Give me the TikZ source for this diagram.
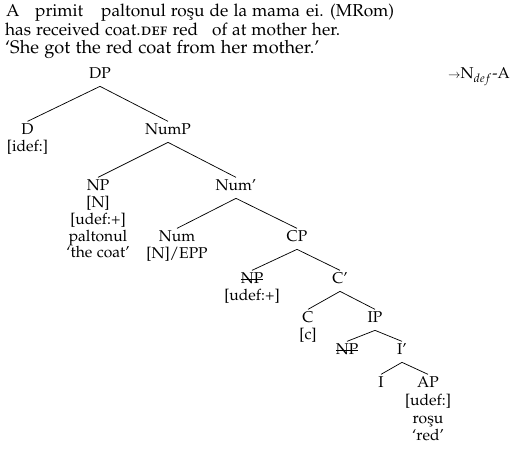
\documentclass[tikz,border=0pt]{standalone}
\usepackage[T1]{fontenc}
\usepackage[sc]{mathpazo}
\usepackage{tikz}

% struck-out category label
\newcommand{\strk}[1]{\setbox0\hbox{#1}\rlap{\rule[0.3em]{\wd0}{0.4pt}}\box0}
\newcommand{\treefont}{\fontsize{8.6}{10}\selectfont}

\begin{document}
\begin{tikzpicture}[x=0.55pt, y=-0.55pt,
  every node/.style={inner sep=1pt},
  word/.style={anchor=base west, font=\fontsize{9.5}{11}\selectfont},
  cat/.style={anchor=base, font=\treefont, text height=6.3pt, text depth=2.85pt},
  feat/.style={anchor=base, font=\treefont}]

  \useasboundingbox (0,0) rectangle (512,451);

  % --- baselines of the tree rows ---
  \def\ra{79}
  \def\rb{135}
  \def\rc{191}
  \def\rd{242}
  \def\re{284}
  \def\rf{323}
  \def\rg{355}
  \def\rh{388}
  \def\rowstep{16.7}

  % ============================================================
  % Example sentence, gloss and translation
  % ============================================================
  \node[word] (w1) at (4,17) {A};
  \node[word] (w2) at (33,17) {primit};
  \node[word] (w3) at (99,17) {paltonul ro\c{s}u de la mama};
  \node[word] (w4) at (304,17) {ei.};
  \node[word] (w5) at (328,17) {(MRom)};

  \node[word] (g1) at (3,36) {has received coat.\textsc{def} red};
  \node[word] (g2) at (210,36) {of};
  \node[word] (g3) at (230,36) {at mother her.};

  \node[word, font=\normalsize] (tr) at (3,54) {`She got the red coat from her mother.'};

  \node[anchor=base east, font=\treefont] (lbl) at (512,\ra) {$\scriptstyle\rightarrow$N$_{def}$-A};

  % ============================================================
  % Tree
  % ============================================================
  \node[cat] (dp) at (100,\ra) {DP};

  \node[cat] (d) at (27.5,\rb) {D};
  \node[feat] (df) at (27.5,\rb+\rowstep) {[idef:]};
  \node[cat] (nump) at (168,\rb) {NumP};

  \node[cat] (np) at (98,\rc) {NP};
  \node[feat] (npf1) at (98,\rc+\rowstep) {[N]};
  \node[feat] (npf2) at (98,\rc+2*\rowstep) {[udef:+]};
  \node[feat] (npf3) at (98,\rc+3*\rowstep) {paltonul};
  \node[feat] (npf4) at (98,\rc+4*\rowstep) {`the coat'};
  \node[cat] (numb) at (236,\rc) {Num'};

  \node[cat] (num) at (177,\rd) {Num};
  \node[feat] (numf) at (177,\rd+\rowstep) {[N]/EPP};
  \node[cat] (cp) at (297,\rd) {CP};

  \node[cat] (npt) at (252,\re) {\strk{NP}};
  \node[feat] (nptf) at (252,\re+\rowstep) {[udef:+]};
  \node[cat] (cb) at (340,\re) {C'};

  \node[cat] (c) at (308,\rf) {C};
  \node[feat] (cf) at (308,\rf+\rowstep) {[c]};
  \node[cat] (ip) at (375,\rf) {IP};

  \node[cat] (npi) at (347,\rg) {\strk{NP}};
  \node[cat] (ib) at (402,\rg) {I'};

  \node[cat] (i) at (381,\rh) {I};
  \node[cat] (ap) at (428,\rh) {AP};
  \node[feat] (apf1) at (428,\rh+17.5) {[udef:]};
  \node[feat] (apf2) at (428,\rh+35.5) {ro\c{s}u};
  \node[feat] (apf3) at (428,\rh+53) {`red'};

  % --- branches ---
  \draw (dp.south) -- (d.north);
  \draw (dp.south) -- (nump.north);
  \draw (nump.south) -- (np.north);
  \draw (nump.south) -- (numb.north);
  \draw (numb.south) -- (num.north);
  \draw (numb.south) -- (cp.north);
  \draw (cp.south) -- (npt.north);
  \draw (cp.south) -- (cb.north);
  \draw (cb.south) -- (c.north);
  \draw (cb.south) -- (ip.north);
  \draw (ip.south) -- (npi.north);
  \draw (ip.south) -- (ib.north);
  \draw (ib.south) -- (i.north);
  \draw (ib.south) -- (ap.north);

\end{tikzpicture}
\end{document}
